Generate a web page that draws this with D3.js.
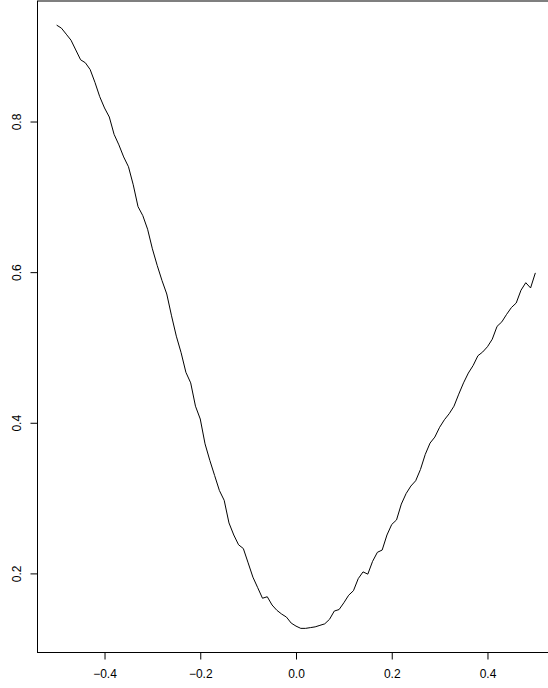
<!DOCTYPE html>
<html>
<head>
<meta charset="utf-8">
<script src="https://cdn.jsdelivr.net/npm/d3@7"></script>
<style>
  body { margin: 0; background: #fff; }
  svg { display: block; }
  .tick-label { font-family: "Liberation Sans", Arial, sans-serif; font-size: 12px; fill: #000; }
</style>
</head>
<body>
<svg id="chart"></svg>
<script>
const xValues = d3.range(101).map(i => (i - 50) / 100);
const yValues = [
  0.928, 0.924, 0.916, 0.908, 0.895, 0.882, 0.878, 0.869, 0.852, 0.833,
  0.818, 0.806, 0.783, 0.769, 0.753, 0.740, 0.716, 0.687, 0.675, 0.657,
  0.631, 0.609, 0.589, 0.571, 0.542, 0.515, 0.493, 0.467, 0.453, 0.422,
  0.405, 0.372, 0.350, 0.330, 0.310, 0.297, 0.267, 0.251, 0.238, 0.233,
  0.214, 0.195, 0.181, 0.167, 0.169, 0.158, 0.151, 0.146, 0.142, 0.134,
  0.130, 0.127, 0.127, 0.128, 0.129, 0.131, 0.133, 0.139, 0.150, 0.152,
  0.161, 0.171, 0.177, 0.193, 0.202, 0.199, 0.216, 0.228, 0.231, 0.251,
  0.265, 0.271, 0.292, 0.306, 0.316, 0.323, 0.338, 0.358, 0.373, 0.381,
  0.394, 0.404, 0.412, 0.422, 0.438, 0.453, 0.466, 0.476, 0.489, 0.494,
  0.501, 0.511, 0.528, 0.534, 0.544, 0.553, 0.559, 0.576, 0.586, 0.579,
  0.599
];
const xTicks = [-0.4, -0.2, 0.0, 0.2, 0.4];
const yTicks = [0.2, 0.4, 0.6, 0.8];

const width = 548, height = 688;
const plot = {left: 37.5, right: 554.5, top: 1, bottom: 652.5};

const svg = d3.select("#chart").attr("width", width).attr("height", height);

// R style: 4% padding around the data range
function padded(ext) {
  const p = (ext[1] - ext[0]) * 0.04;
  return [ext[0] - p, ext[1] + p];
}

const x = d3.scaleLinear().domain(padded(d3.extent(xValues))).range([plot.left, plot.right]);
const y = d3.scaleLinear().domain(padded(d3.extent(yValues))).range([plot.bottom, plot.top]);

const points = xValues.map((v, i) => [v, yValues[i]]);

svg.append("path")
  .datum(points)
  .attr("fill", "none")
  .attr("stroke", "#000")
  .attr("stroke-width", 1)
  .attr("d", d3.line().x(d => x(d[0])).y(d => y(d[1])));

// plot frame
svg.append("rect")
  .attr("x", plot.left)
  .attr("y", plot.top)
  .attr("width", plot.right - plot.left)
  .attr("height", plot.bottom - plot.top)
  .attr("fill", "none")
  .attr("stroke", "#000")
  .attr("stroke-width", 1);

const xAxis = svg.append("g")
  .attr("transform", `translate(0,${plot.bottom})`)
  .call(d3.axisBottom(x).tickValues(xTicks).tickSize(7).tickPadding(10)
    .tickFormat(d => d3.format(".1f")(d).replace("-", "\u2212")));
xAxis.select(".domain").attr("d", `M${x(xTicks[0])},0H${x(xTicks[xTicks.length - 1])}`);
xAxis.selectAll("text").attr("class", "tick-label").attr("font-size", null).attr("font-family", null);

const yAxis = svg.append("g")
  .attr("transform", `translate(${plot.left},0)`)
  .call(d3.axisLeft(y).tickValues(yTicks).tickSize(7).tickFormat(d3.format(".1f")));
yAxis.select(".domain").attr("d", `M0,${y(yTicks[0])}V${y(yTicks[yTicks.length - 1])}`);
yAxis.selectAll("text")
  .attr("class", "tick-label")
  .attr("font-size", null).attr("font-family", null)
  .attr("x", null).attr("dy", null)
  .attr("text-anchor", "middle")
  .attr("transform", "translate(-17,0) rotate(-90)");
</script>
</body>
</html>
